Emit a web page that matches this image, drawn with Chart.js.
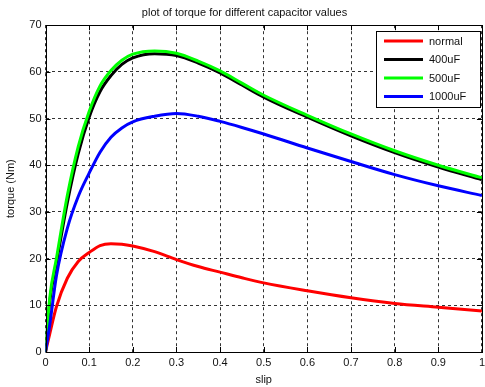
<!DOCTYPE html>
<html>
<head>
<meta charset="utf-8">
<script src="https://cdn.jsdelivr.net/npm/chart.js@4"></script>
<style>
  html, body { margin:0; padding:0; background:#fff; overflow:hidden; width:485px; height:387px; }
  #wrap { width:489px; height:387px; position:relative; }
</style>
</head>
<body>
<div id="wrap"><canvas id="c"></canvas></div>
<script>
const slip = [0, 0.01, 0.025, 0.05, 0.075, 0.1, 0.125, 0.15, 0.175, 0.2, 0.25, 0.3, 0.35, 0.4, 0.45, 0.5, 0.6, 0.7, 0.8, 0.9, 1.0];
const torqueNormal = [0, 4, 9.7, 15.8, 19.4, 21.3, 22.8, 23.2, 23.1, 22.7, 21.5, 19.8, 18.3, 17.1, 15.9, 14.8, 13.1, 11.6, 10.4, 9.6, 8.8];
const torque400uF = [0, 11, 19, 32, 42.5, 50.3, 55.8, 59.2, 61.6, 63, 63.9, 63.5, 61.9, 59.8, 57.2, 54.6, 50.3, 46.3, 42.7, 39.6, 36.9];
const torque500uF = [0, 11.8, 20, 33.5, 44, 51.5, 57, 60.3, 62.5, 63.8, 64.5, 64, 62.3, 60.2, 57.6, 55.0, 50.7, 46.7, 43.1, 40.0, 37.3];
const torque1000uF = [0, 6, 16.3, 26.5, 33.3, 38.3, 42.8, 46, 48, 49.3, 50.5, 51.1, 50.5, 49.4, 48.1, 46.7, 43.7, 40.8, 38.0, 35.6, 33.5];
const seriesNames = ['normal', '400uF', '500uF', '1000uF'];
const xTickLabels = ['0', '0.1', '0.2', '0.3', '0.4', '0.5', '0.6', '0.7', '0.8', '0.9', '1'];
const yTickLabels = ['0', '10', '20', '30', '40', '50', '60', '70'];

const colors = ['#ff0000', '#000000', '#00ff00', '#0000ff'];
const seriesData = [torqueNormal, torque400uF, torque500uF, torque1000uF];
const orders = [4, 3, 2, 1];

const datasets = seriesData.map((arr, i) => ({
  label: seriesNames[i],
  data: slip.map((s, k) => ({ x: s, y: arr[k] })),
  borderColor: colors[i],
  backgroundColor: colors[i],
  borderWidth: 3,
  pointRadius: 0,
  fill: false,
  cubicInterpolationMode: 'monotone',
  order: orders[i]
}));

const FONT = "'Liberation Sans', Arial, sans-serif";

const framePlugin = {
  id: 'frame',
  afterDatasetsDraw(chart) {
    const ctx = chart.ctx;
    const a = chart.chartArea;
    const xs = chart.scales.x, ys = chart.scales.y;
    ctx.save();
    ctx.strokeStyle = '#000';
    ctx.lineWidth = 1;
    ctx.setLineDash([]);
    ctx.beginPath();
    const tl = 5;
    xs.ticks.forEach(t => {
      const px = Math.round(xs.getPixelForValue(t.value)) + 0.5;
      ctx.moveTo(px, a.bottom); ctx.lineTo(px, a.bottom - tl);
      ctx.moveTo(px, a.top); ctx.lineTo(px, a.top + tl);
    });
    ys.ticks.forEach(t => {
      const py = Math.round(ys.getPixelForValue(t.value)) + 0.5;
      ctx.moveTo(a.left, py); ctx.lineTo(a.left + tl, py);
      ctx.moveTo(a.right, py); ctx.lineTo(a.right - tl, py);
    });
    ctx.stroke();
    ctx.strokeRect(Math.round(a.left) + 0.5, Math.round(a.top) + 0.5, Math.round(a.right - a.left), Math.round(a.bottom - a.top));

    // legend box
    const bx = 376, by = 31, bw = 104, bh = 76;
    ctx.fillStyle = '#fff';
    ctx.fillRect(bx, by, bw, bh);
    ctx.strokeStyle = '#000';
    ctx.strokeRect(bx + 0.5, by + 0.5, bw, bh);
    const rows = [41, 59.5, 78, 96.5];
    ctx.font = '11px ' + FONT;
    ctx.textBaseline = 'middle';
    ctx.textAlign = 'left';
    chart.data.datasets.forEach((d, i) => {
      ctx.strokeStyle = d.borderColor;
      ctx.lineWidth = 3;
      ctx.beginPath();
      ctx.moveTo(384, rows[i]);
      ctx.lineTo(423, rows[i]);
      ctx.stroke();
      ctx.fillStyle = '#111';
      ctx.fillText(d.label, 429, rows[i] + 0.5);
    });
    ctx.restore();
  }
};

new Chart(document.getElementById('c'), {
  type: 'line',
  data: { datasets },
  plugins: [framePlugin],
  options: {
    responsive: true,
    maintainAspectRatio: false,
    animation: false,
    layout: { padding: { left: 0, right: 0, top: 0, bottom: 0 } },
    plugins: {
      legend: { display: false },
      tooltip: { enabled: false },
      title: {
        display: true,
        text: 'plot of torque for different capacitor values',
        color: '#111',
        font: { family: FONT, size: 11, weight: 'normal' },
        padding: { top: 6, bottom: 6 }
      }
    },
    scales: {
      x: {
        type: 'linear',
        min: 0, max: 1,
        afterBuildTicks(scale) {
          scale.ticks = xTickLabels.map(l => ({ value: parseFloat(l) }));
        },
        ticks: {
          color: '#111',
          font: { family: FONT, size: 11 },
          padding: 4,
          maxRotation: 0,
          autoSkip: false,
          callback: (v, i) => xTickLabels[i]
        },
        grid: {
          color: '#333',
          lineWidth: 1,
          drawTicks: false,
          tickLength: 0
        },
        border: { display: false, dash: [3, 3] },
        title: {
          display: true,
          text: 'slip',
          color: '#111',
          font: { family: FONT, size: 11 },
          padding: { top: 2, bottom: 0 }
        },
        afterFit(scale) { scale.height = 35; }
      },
      y: {
        type: 'linear',
        min: 0, max: 70,
        afterBuildTicks(scale) {
          scale.ticks = yTickLabels.map(l => ({ value: parseFloat(l) }));
        },
        ticks: {
          color: '#111',
          font: { family: FONT, size: 11 },
          padding: 4,
          autoSkip: false,
          callback: (v, i) => yTickLabels[i]
        },
        grid: {
          color: '#333',
          lineWidth: 1,
          drawTicks: false,
          tickLength: 0
        },
        border: { display: false, dash: [3, 3] },
        title: {
          display: true,
          text: 'torque (Nm)',
          color: '#111',
          font: { family: FONT, size: 11 },
          padding: { top: 4, bottom: 2 }
        },
        afterFit(scale) { scale.width = 45.5; }
      }
    }
  }
});
</script>
</body>
</html>
